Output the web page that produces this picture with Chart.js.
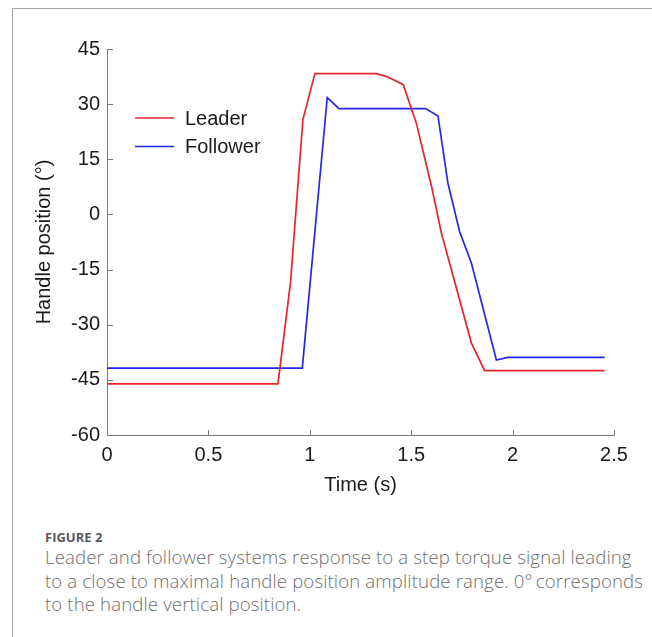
<!DOCTYPE html>
<html>
<head>
<meta charset="utf-8">
<script src="https://cdn.jsdelivr.net/npm/chart.js@4/dist/chart.umd.min.js"></script>
<style>
  body { margin: 0; background: #fff; }
  #wrap { position: relative; width: 652px; height: 637px; overflow: hidden; }
  #frame { position: absolute; left: 12px; top: 8px; width: 640px; height: 629px;
           border-left: 1px solid #a3a3a3; border-top: 1px solid #a3a3a3; }
  #chart { position: absolute; left: 0; top: 0; }
  .figno { position: absolute; left: 45px; top: 529px; font: 700 13px "Open Sans", sans-serif;
           color: #595959; line-height: 16px; }
  .cap { position: absolute; left: 45px; top: 545px; font: 300 18.6px "Open Sans", sans-serif;
         color: #6e6e6e; line-height: 23.6px; letter-spacing: 0.13px; white-space: nowrap; }
</style>
</head>
<body>
<div id="wrap">
  <div id="frame"></div>
  <canvas id="chart" width="652" height="500"></canvas>
  <div class="figno">FIGURE 2</div>
  <div class="cap">Leader and follower systems response to a step torque signal leading<br>to a close to maximal handle position amplitude range. 0°&#8201;corresponds<br>to the handle vertical position.</div>
</div>
<script>
// 読み取った値 (時間 s, 角度 °)
const leaderTime = [0, 0.843, 0.905, 0.966, 1.025, 1.328, 1.380, 1.461, 1.525, 1.602, 1.649, 1.797, 1.862, 2.454];
const leaderPos  = [-46.1, -46.1, -18.4, 25.8, 38.3, 38.3, 37.5, 35.3, 24.9, 7.2, -5.1, -35.0, -42.5, -42.5];
const followerTime = [0, 0.963, 1.086, 1.144, 1.571, 1.632, 1.681, 1.739, 1.797, 1.920, 1.977, 2.454];
const followerPos  = [-41.8, -41.8, 31.8, 28.8, 28.8, 26.8, 8.5, -4.7, -13.3, -39.6, -38.9, -38.9];
const xTicks = [0, 0.5, 1, 1.5, 2, 2.5];
const yTicks = [-60, -45, -30, -15, 0, 15, 30, 45];

const FONT = 'Liberation Sans, Arial, sans-serif';
const toPoints = (xs, ys) => xs.map((x, i) => ({ x: x, y: ys[i] }));

// 内向きの目盛り
const innerTicks = {
    id: 'innerTicks',
    afterDraw(chart) {
        const ctx = chart.ctx;
        const sx = chart.scales.x, sy = chart.scales.y;
        const a = chart.chartArea;
        ctx.save();
        ctx.strokeStyle = '#7a7a7a';
        ctx.lineWidth = 1;
        ctx.beginPath();
        xTicks.forEach(v => {
            const px = Math.round(sx.getPixelForValue(v)) + 0.5;
            ctx.moveTo(px, a.bottom);
            ctx.lineTo(px, a.bottom - 5);
        });
        yTicks.forEach(v => {
            const py = Math.round(sy.getPixelForValue(v)) + 0.5;
            ctx.moveTo(a.left, py);
            ctx.lineTo(a.left + 6, py);
        });
        ctx.stroke();
        ctx.restore();
    }
};

// 凡例 (プロット内左上)
const innerLegend = {
    id: 'innerLegend',
    afterDraw(chart) {
        const ctx = chart.ctx;
        ctx.save();
        ctx.font = '20px ' + FONT;
        ctx.textBaseline = 'middle';
        chart.data.datasets.forEach((ds, i) => {
            const y = 118 + i * 28.5;
            ctx.strokeStyle = ds.borderColor;
            ctx.lineWidth = ds.borderWidth;
            ctx.beginPath();
            ctx.moveTo(135, y);
            ctx.lineTo(174, y);
            ctx.stroke();
            ctx.fillStyle = '#1a1a1a';
            ctx.fillText(ds.label, 185, y + 1);
        });
        ctx.restore();
    }
};

new Chart(document.getElementById('chart'), {
    type: 'line',
    data: {
        datasets: [
            { label: 'Leader', data: toPoints(leaderTime, leaderPos), borderColor: '#e8252b', borderWidth: 1.7, pointRadius: 0, tension: 0 },
            { label: 'Follower', data: toPoints(followerTime, followerPos), borderColor: '#2626e8', borderWidth: 1.7, pointRadius: 0, tension: 0 }
        ]
    },
    options: {
        responsive: false,
        animation: false,
        layout: { padding: { top: 49, right: 38, left: 0, bottom: 0 } },
        plugins: { legend: { display: false }, tooltip: { enabled: false } },
        scales: {
            x: {
                type: 'linear', min: 0, max: 2.5,
                afterBuildTicks: s => { s.ticks = xTicks.map(v => ({ value: v })); },
                afterFit: s => { s.height = 65; },
                grid: { display: false, drawTicks: false },
                border: { display: true, color: '#7a7a7a', width: 1 },
                ticks: { padding: 8, color: '#1a1a1a', font: { family: FONT, size: 20 }, maxRotation: 0, callback: v => String(v) },
                title: { display: true, text: 'Time (s)', color: '#1a1a1a', font: { family: FONT, size: 20 }, padding: { top: 0, bottom: 3 } }
            },
            y: {
                min: -60, max: 45,
                afterBuildTicks: s => { s.ticks = yTicks.map(v => ({ value: v })); },
                afterFit: s => { s.width = 107; },
                grid: { display: false, drawTicks: false },
                border: { display: true, color: '#7a7a7a', width: 1 },
                ticks: { padding: 7, color: '#1a1a1a', font: { family: FONT, size: 20 }, callback: v => String(v) },
                title: { display: true, text: 'Handle position (°)', color: '#1a1a1a', font: { family: FONT, size: 20 }, padding: { top: 32, bottom: 0 } }
            }
        }
    },
    plugins: [innerTicks, innerLegend]
});
</script>
</body>
</html>
